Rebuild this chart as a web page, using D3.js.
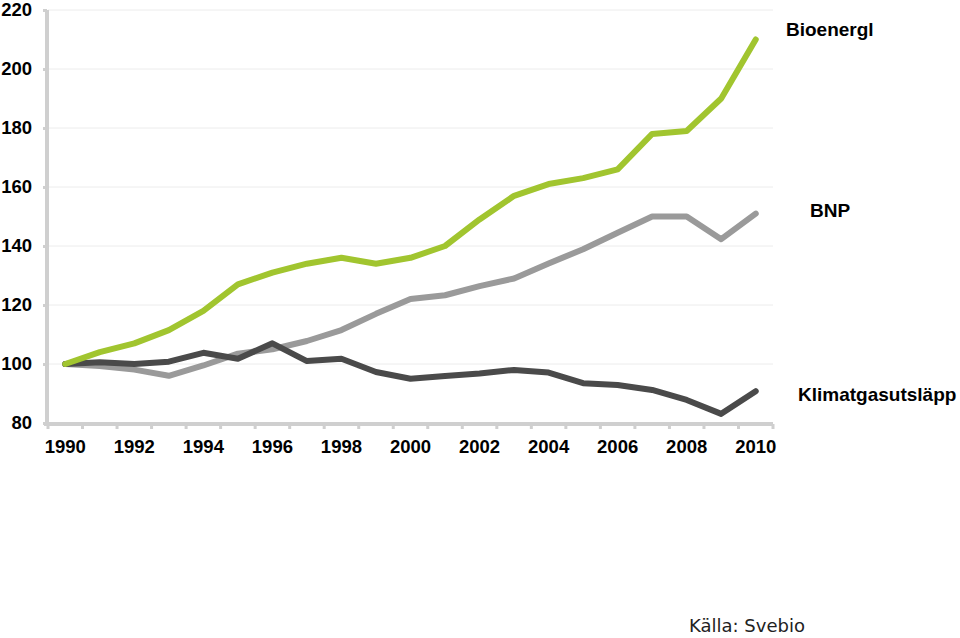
<!DOCTYPE html>
<html><head><meta charset="utf-8">
<script src="https://cdn.jsdelivr.net/npm/d3@7"></script>
<style>body{margin:0;background:#fff}svg{display:block}</style>
</head><body>
<script>
const years = d3.range(1990, 2011);
const bioenergi = [100,104,107,111.5,118,127,131,134,136,134,136,140,149,157,161,163,166,178,179,190,210];
const bnp = [100,99.3,98.1,96,99.5,103.5,105,107.8,111.5,117,122,123.3,126.4,129,134.1,138.9,144.5,150,150,142.3,151];
const klimat = [100,100.6,100,100.8,103.8,101.8,107,101,101.8,97.3,95,95.9,96.8,98,97.1,93.5,92.9,91.2,87.8,83.1,90.8];
const yTicks = [80,100,120,140,160,180,200,220];
const xLabels = [1990,1992,1994,1996,1998,2000,2002,2004,2006,2008,2010];
const seriesNames = ["Bioenergl","BNP","Klimatgasutsläpp"];

const W=960,H=638;
const svg=d3.select("body").append("svg").attr("width",W).attr("height",H);
const x0=48,x1=773,yTop=10,yBot=423;
const x=d3.scalePoint().domain(years).range([x0,x1]).padding(0.5);
const y=d3.scaleLinear().domain([80,220]).range([yBot,yTop]);

// gridlines
svg.append("g").selectAll("line").data(yTicks.filter(d=>d>80)).join("line")
  .attr("x1",x0).attr("x2",x1).attr("y1",d=>y(d)).attr("y2",d=>y(d))
  .attr("stroke","#ececec").attr("stroke-width",1);

// y axis
const yAxis=svg.append("g").attr("transform",`translate(${x0-1},0)`)
  .call(d3.axisLeft(y).tickValues(yTicks).tickSize(4).tickPadding(12));
yAxis.select(".domain").attr("stroke","#cfcfcf").attr("stroke-width",4).attr("d",`M0,${yTop}V${yBot+1}`);
yAxis.selectAll(".tick line").attr("stroke","#cfcfcf").attr("stroke-width",3);
yAxis.selectAll(".tick text").attr("font-family","Liberation Sans, Arial, sans-serif")
  .attr("font-weight","bold").attr("font-size",18.5).attr("fill","#000").attr("x",-15);

// x axis
const step=x.step();
const xb=svg.append("g").attr("transform",`translate(0,${yBot+1})`);
xb.append("line").attr("x1",x0-4).attr("x2",x1).attr("stroke","#cfcfcf").attr("stroke-width",4);
xb.selectAll("line.tk").data(d3.range(years.length+1)).join("line").attr("class","tk")
  .attr("x1",i=>x0+i*step).attr("x2",i=>x0+i*step).attr("y1",0).attr("y2",5)
  .attr("stroke","#cfcfcf").attr("stroke-width",3);
xb.selectAll("text").data(xLabels).join("text")
  .attr("x",d=>x(d)).attr("y",29).attr("text-anchor","middle")
  .attr("font-family","Liberation Sans, Arial, sans-serif").attr("font-weight","bold")
  .attr("font-size",18.5).attr("fill","#000").text(d=>d);

// lines
const line=d3.line().x((d,i)=>x(years[i])).y(d=>y(d));
const data=[{v:bnp,c:"#9a9a9a"},{v:klimat,c:"#4a4a4a"},{v:bioenergi,c:"#a1c52f"}];
svg.append("g").selectAll("path").data(data).join("path")
  .attr("d",d=>line(d.v)).attr("fill","none").attr("stroke",d=>d.c)
  .attr("stroke-width",6).attr("stroke-linejoin","round").attr("stroke-linecap","round");

// series labels
const lab=[{t:seriesNames[0],x:786,y:36},{t:seriesNames[1],x:810,y:217},{t:seriesNames[2],x:798,y:401}];
svg.append("g").selectAll("text").data(lab).join("text")
  .attr("x",d=>d.x).attr("y",d=>d.y).text(d=>d.t)
  .attr("font-family","Liberation Sans, Arial, sans-serif").attr("font-weight","bold")
  .attr("font-size",19).attr("fill","#000");

svg.append("text").attr("x",689).attr("y",632).text("Källa: Svebio")
  .attr("font-family","DejaVu Sans, sans-serif").attr("font-size",18).attr("fill","#222");
</script>
</body></html>
